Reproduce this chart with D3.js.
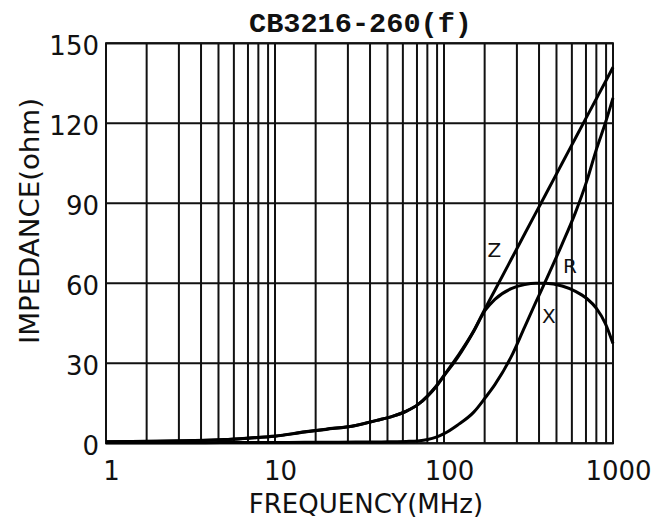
<!DOCTYPE html>
<html>
<head>
<meta charset="utf-8">
<script src="https://cdn.jsdelivr.net/npm/d3@7"></script>
<style>
  html, body { margin: 0; padding: 0; background: #fff; }
  svg { display: block; }
</style>
</head>
<body>
<svg id="chart" width="667" height="519"></svg>
<script>
// ---- data ----
const chartTitle = "CB3216-260(f)";
const xTitle = "FREQUENCY(MHz)";
const yTitle = "IMPEDANCE(ohm)";

const freqs   = [1, 2, 3, 5, 7, 10, 15, 20, 30, 40, 50, 60, 70, 80, 90, 100, 120, 150, 175, 200, 250, 300, 350, 400, 500, 600, 700, 800, 900, 1000];
const zValues = [0.6, 0.8, 1.0, 1.4, 2.0, 2.7, 4.3, 5.3, 6.7, 8.6, 10.2, 12.1, 14.5, 17.8, 21.5, 25.5, 32.5, 42.2, 50.5, 57.4, 69.0, 78.5, 86.5, 93.4, 105.0, 114.5, 122.5, 129.4, 135.5, 141.0];
const rValues = [0.2, 0.2, 0.2, 0.3, 0.3, 0.3, 0.4, 0.4, 0.5, 0.5, 0.6, 0.7, 0.9, 1.4, 2.3, 3.6, 6.8, 11.7, 17.0, 22.0, 32.5, 43.6, 53.0, 61.0, 74.7, 86.6, 98.4, 110.5, 120.0, 129.5];
const xValues = [0.55, 0.75, 0.95, 1.35, 1.9, 2.6, 4.2, 5.2, 6.7, 8.6, 10.2, 12.1, 14.5, 17.7, 21.3, 25.3, 32.0, 42.0, 49.8, 54.0, 58.0, 59.5, 60.0, 60.0, 59.0, 57.0, 54.3, 50.5, 45.0, 37.4];

const yTicks = [0, 30, 60, 90, 120, 150];
const xTickValues = [1, 10, 100, 1000];
const xTickLabels = ["1", "10", "100", "1000"];
const decades = [1, 10, 100];
// minor grid positions inside each decade, as drawn in the reference
const gridMultipliers = [1.74, 2.70, 3.65, 4.63, 5.71, 6.92, 7.97, 9.1];

const curveLabels = [
  { text: "Z", f: 181, v: 70.0 },
  { text: "R", f: 506, v: 63.9 },
  { text: "X", f: 380, v: 45.1 }
];

// ---- drawing ----
const svg = d3.select("#chart");
const plot = { left: 106, right: 613, top: 43.3, bottom: 443.3 };

const x = d3.scaleLog().domain([1, 1000]).range([plot.left, plot.right]);
const y = d3.scaleLinear().domain([0, 150]).range([plot.bottom, plot.top]);

svg.append("rect").attr("width", 667).attr("height", 519).attr("fill", "#fff");

// vertical grid
const gridFreqs = [];
decades.forEach(d => gridMultipliers.forEach(m => gridFreqs.push(d * m)));
xTickValues.forEach(v => gridFreqs.push(v));

svg.append("g").selectAll("line.v").data(gridFreqs).join("line")
  .attr("x1", d => x(d)).attr("x2", d => x(d))
  .attr("y1", plot.top).attr("y2", plot.bottom)
  .attr("stroke", "#111").attr("stroke-width", 2);

// horizontal grid
svg.append("g").selectAll("line.h").data(yTicks).join("line")
  .attr("x1", plot.left).attr("x2", plot.right)
  .attr("y1", d => y(d)).attr("y2", d => y(d))
  .attr("stroke", "#111").attr("stroke-width", 2);

// border
svg.append("rect")
  .attr("x", plot.left).attr("y", plot.top)
  .attr("width", plot.right - plot.left).attr("height", plot.bottom - plot.top)
  .attr("fill", "none").attr("stroke", "#111").attr("stroke-width", 2);

// curves
const line = d3.line()
  .x(d => x(d[0])).y(d => y(d[1]))
  .curve(d3.curveMonotoneX);

[zValues, rValues, xValues].forEach(vals => {
  svg.append("path")
    .datum(freqs.map((f, i) => [f, vals[i]]))
    .attr("d", line)
    .attr("fill", "none")
    .attr("stroke", "#000")
    .attr("stroke-width", 3)
    .attr("stroke-linejoin", "round");
});

// curve labels
svg.append("g").selectAll("text").data(curveLabels).join("text")
  .attr("x", d => x(d.f)).attr("y", d => y(d.v))
  .attr("font-family", "'DejaVu Sans', sans-serif")
  .attr("font-size", 20)
  .attr("fill", "#111")
  .text(d => d.text);

// y tick labels
svg.append("g").selectAll("text").data(yTicks).join("text")
  .attr("x", 99).attr("y", d => y(d) + 11.8)
  .attr("text-anchor", "end")
  .attr("font-family", "'DejaVu Sans', sans-serif")
  .attr("font-size", 26)
  .attr("fill", "#111")
  .text(d => d);

// x tick labels
svg.append("g").selectAll("text").data(xTickValues).join("text")
  .attr("x", d => x(d) + 5.5).attr("y", 480)
  .attr("text-anchor", "middle")
  .attr("font-family", "'DejaVu Sans', sans-serif")
  .attr("font-size", 26)
  .attr("fill", "#111")
  .text((d, i) => xTickLabels[i]);

// title
svg.append("text")
  .attr("x", 360.5).attr("y", 32)
  .attr("text-anchor", "middle")
  .attr("font-family", "'Liberation Mono', 'Courier New', monospace")
  .attr("font-weight", "bold")
  .attr("font-size", 28)
  .attr("textLength", 223).attr("lengthAdjust", "spacingAndGlyphs")
  .attr("fill", "#111")
  .text(chartTitle);

// axis titles
svg.append("text")
  .attr("x", 366).attr("y", 513)
  .attr("text-anchor", "middle")
  .attr("font-family", "'DejaVu Sans', sans-serif")
  .attr("font-size", 26)
  .attr("fill", "#111")
  .text(xTitle);

svg.append("text")
  .attr("transform", "translate(39,221) rotate(-90)")
  .attr("text-anchor", "middle")
  .attr("font-family", "'DejaVu Sans', sans-serif")
  .attr("font-size", 26)
  .attr("textLength", 246).attr("lengthAdjust", "spacingAndGlyphs")
  .attr("fill", "#111")
  .text(yTitle);
</script>
</body>
</html>
